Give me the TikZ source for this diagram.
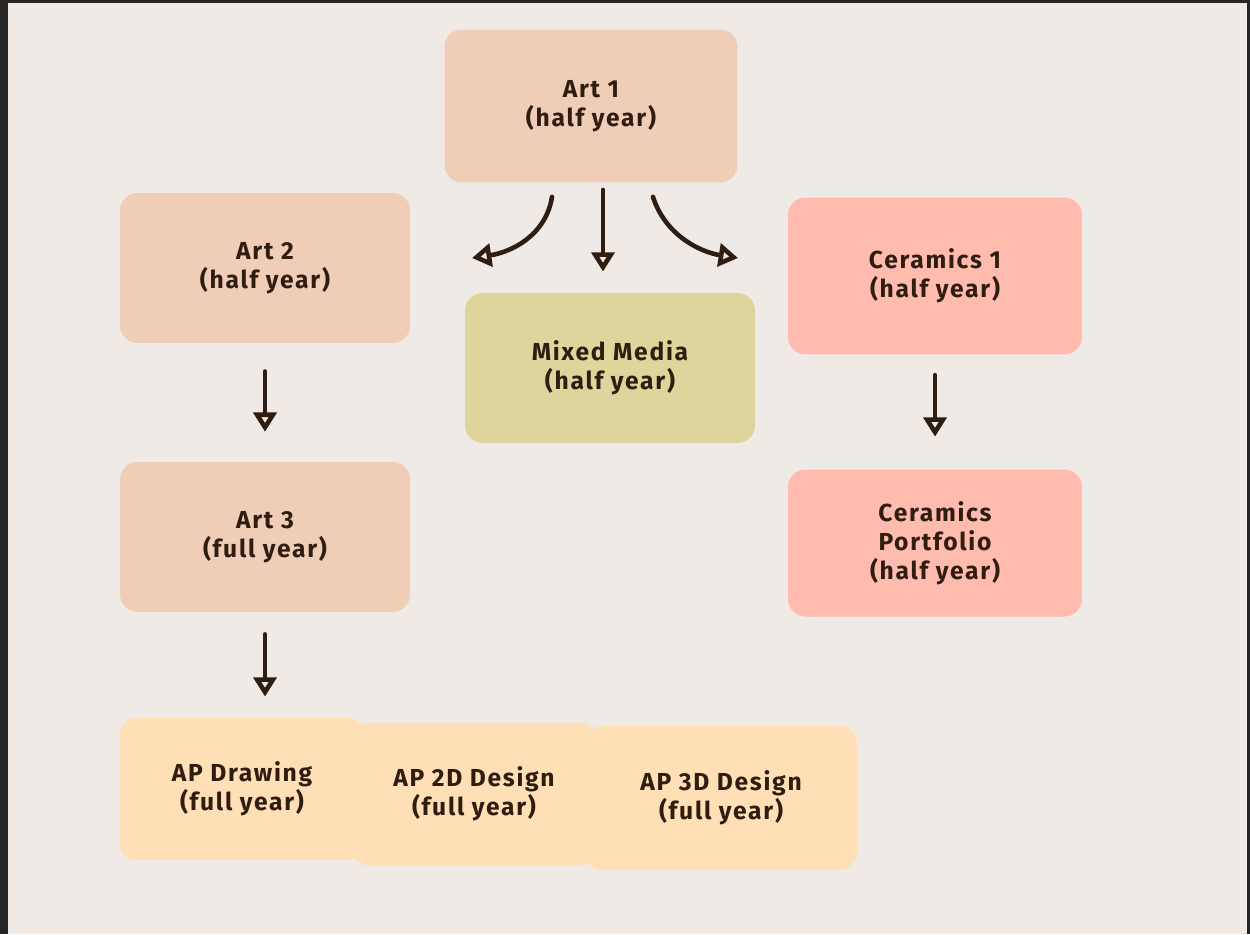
\documentclass[tikz,border=0pt]{standalone}
\usepackage{fontspec}
\setmainfont{Fira Sans}[LetterSpace=7]
\usepackage{xcolor}
\usetikzlibrary{arrows.meta,positioning,calc}
\definecolor{frame}{HTML}{262626}
\definecolor{paper}{HTML}{EFEAE6}
\definecolor{ink}{HTML}{2E1D10}
\definecolor{peach}{HTML}{EFCDB7}
\definecolor{olive}{HTML}{DFD49B}
\definecolor{salmon}{HTML}{FFBBAD}
\definecolor{sand}{HTML}{FFDFB5}
\newcommand{\course}[2]{#1\\(#2)}

\begin{document}
\begin{tikzpicture}[
    x=0.02cm, y=-0.02cm,
    box/.style={rounded corners=0.35cm, align=center, text=ink, inner sep=0pt,
        font=\fontsize{14}{16.5}\selectfont\bfseries,
        minimum width=5.8cm, minimum height=3cm},
    arrow/.style={-{Triangle[open,length=11pt,width=13pt]}, draw=ink,
        line width=2.6pt, line cap=round, line join=round}
]
% Frame and paper
\fill[frame] (0,0) rectangle (1250,934);
\fill[paper] (8,3) rectangle (1247,934);
\useasboundingbox (0,0) rectangle (1250,934);

% Courses
\node[box, fill=peach, minimum width=5.86cm, minimum height=3.06cm] (art1) at (591,106) {\course{Art 1}{half year}};
\node[box, fill=peach] (art2) at (265,268) {\course{Art 2}{half year}};
\node[box, fill=olive] (mixed) at (610,368) {\course{Mixed Media}{half year}};
\node[box, fill=salmon, minimum width=5.88cm, minimum height=3.14cm] (cer1) at (935,276) {\course{Ceramics 1}{half year}};
\node[box, fill=peach] (art3) at (265,537) {\course{Art 3}{full year}};
\node[box, fill=salmon, minimum width=5.88cm, minimum height=2.94cm] (cerport) at (935,543) {Ceramics\\Portfolio\\(half year)};
\node[box, fill=sand, minimum width=4.9cm, minimum height=2.84cm] (apdraw) at (242,789) {\course{AP Drawing}{full year}};
\node[box, fill=sand, minimum width=4.9cm, minimum height=2.86cm] (ap2d) at (474,794) {\course{AP 2D Design}{full year}};
\node[box, fill=sand, minimum width=5.44cm, minimum height=2.88cm] (ap3d) at (721,798) {\course{AP 3D Design}{full year}};

% Free ends of the curved arrows
\coordinate (toart2) at (472,258);
\coordinate (tocer1) at (738,258);

% Arrows
\draw[arrow] ($(art1.south)+(-39,14)$) .. controls (546,235) and (512,252) .. (toart2);
\draw[arrow, shorten <=4pt, shorten >=12pt] ($(art1.south)+(12,0)$) -- ($(mixed.north)+(-7,0)$);
\draw[arrow] ($(art1.south)+(62,14)$) .. controls (665,235) and (700,252) .. (tocer1);
\draw[arrow, shorten <=16pt, shorten >=17pt] (art2) -- (art3);
\draw[arrow, shorten <=11.5pt, shorten >=18.5pt] (cer1.south) -- (cerport.north);
\draw[arrow, shorten <=12.5pt, shorten >=12pt] (art3.south) -- (art3.south |- apdraw.north);

\end{tikzpicture}
\end{document}
